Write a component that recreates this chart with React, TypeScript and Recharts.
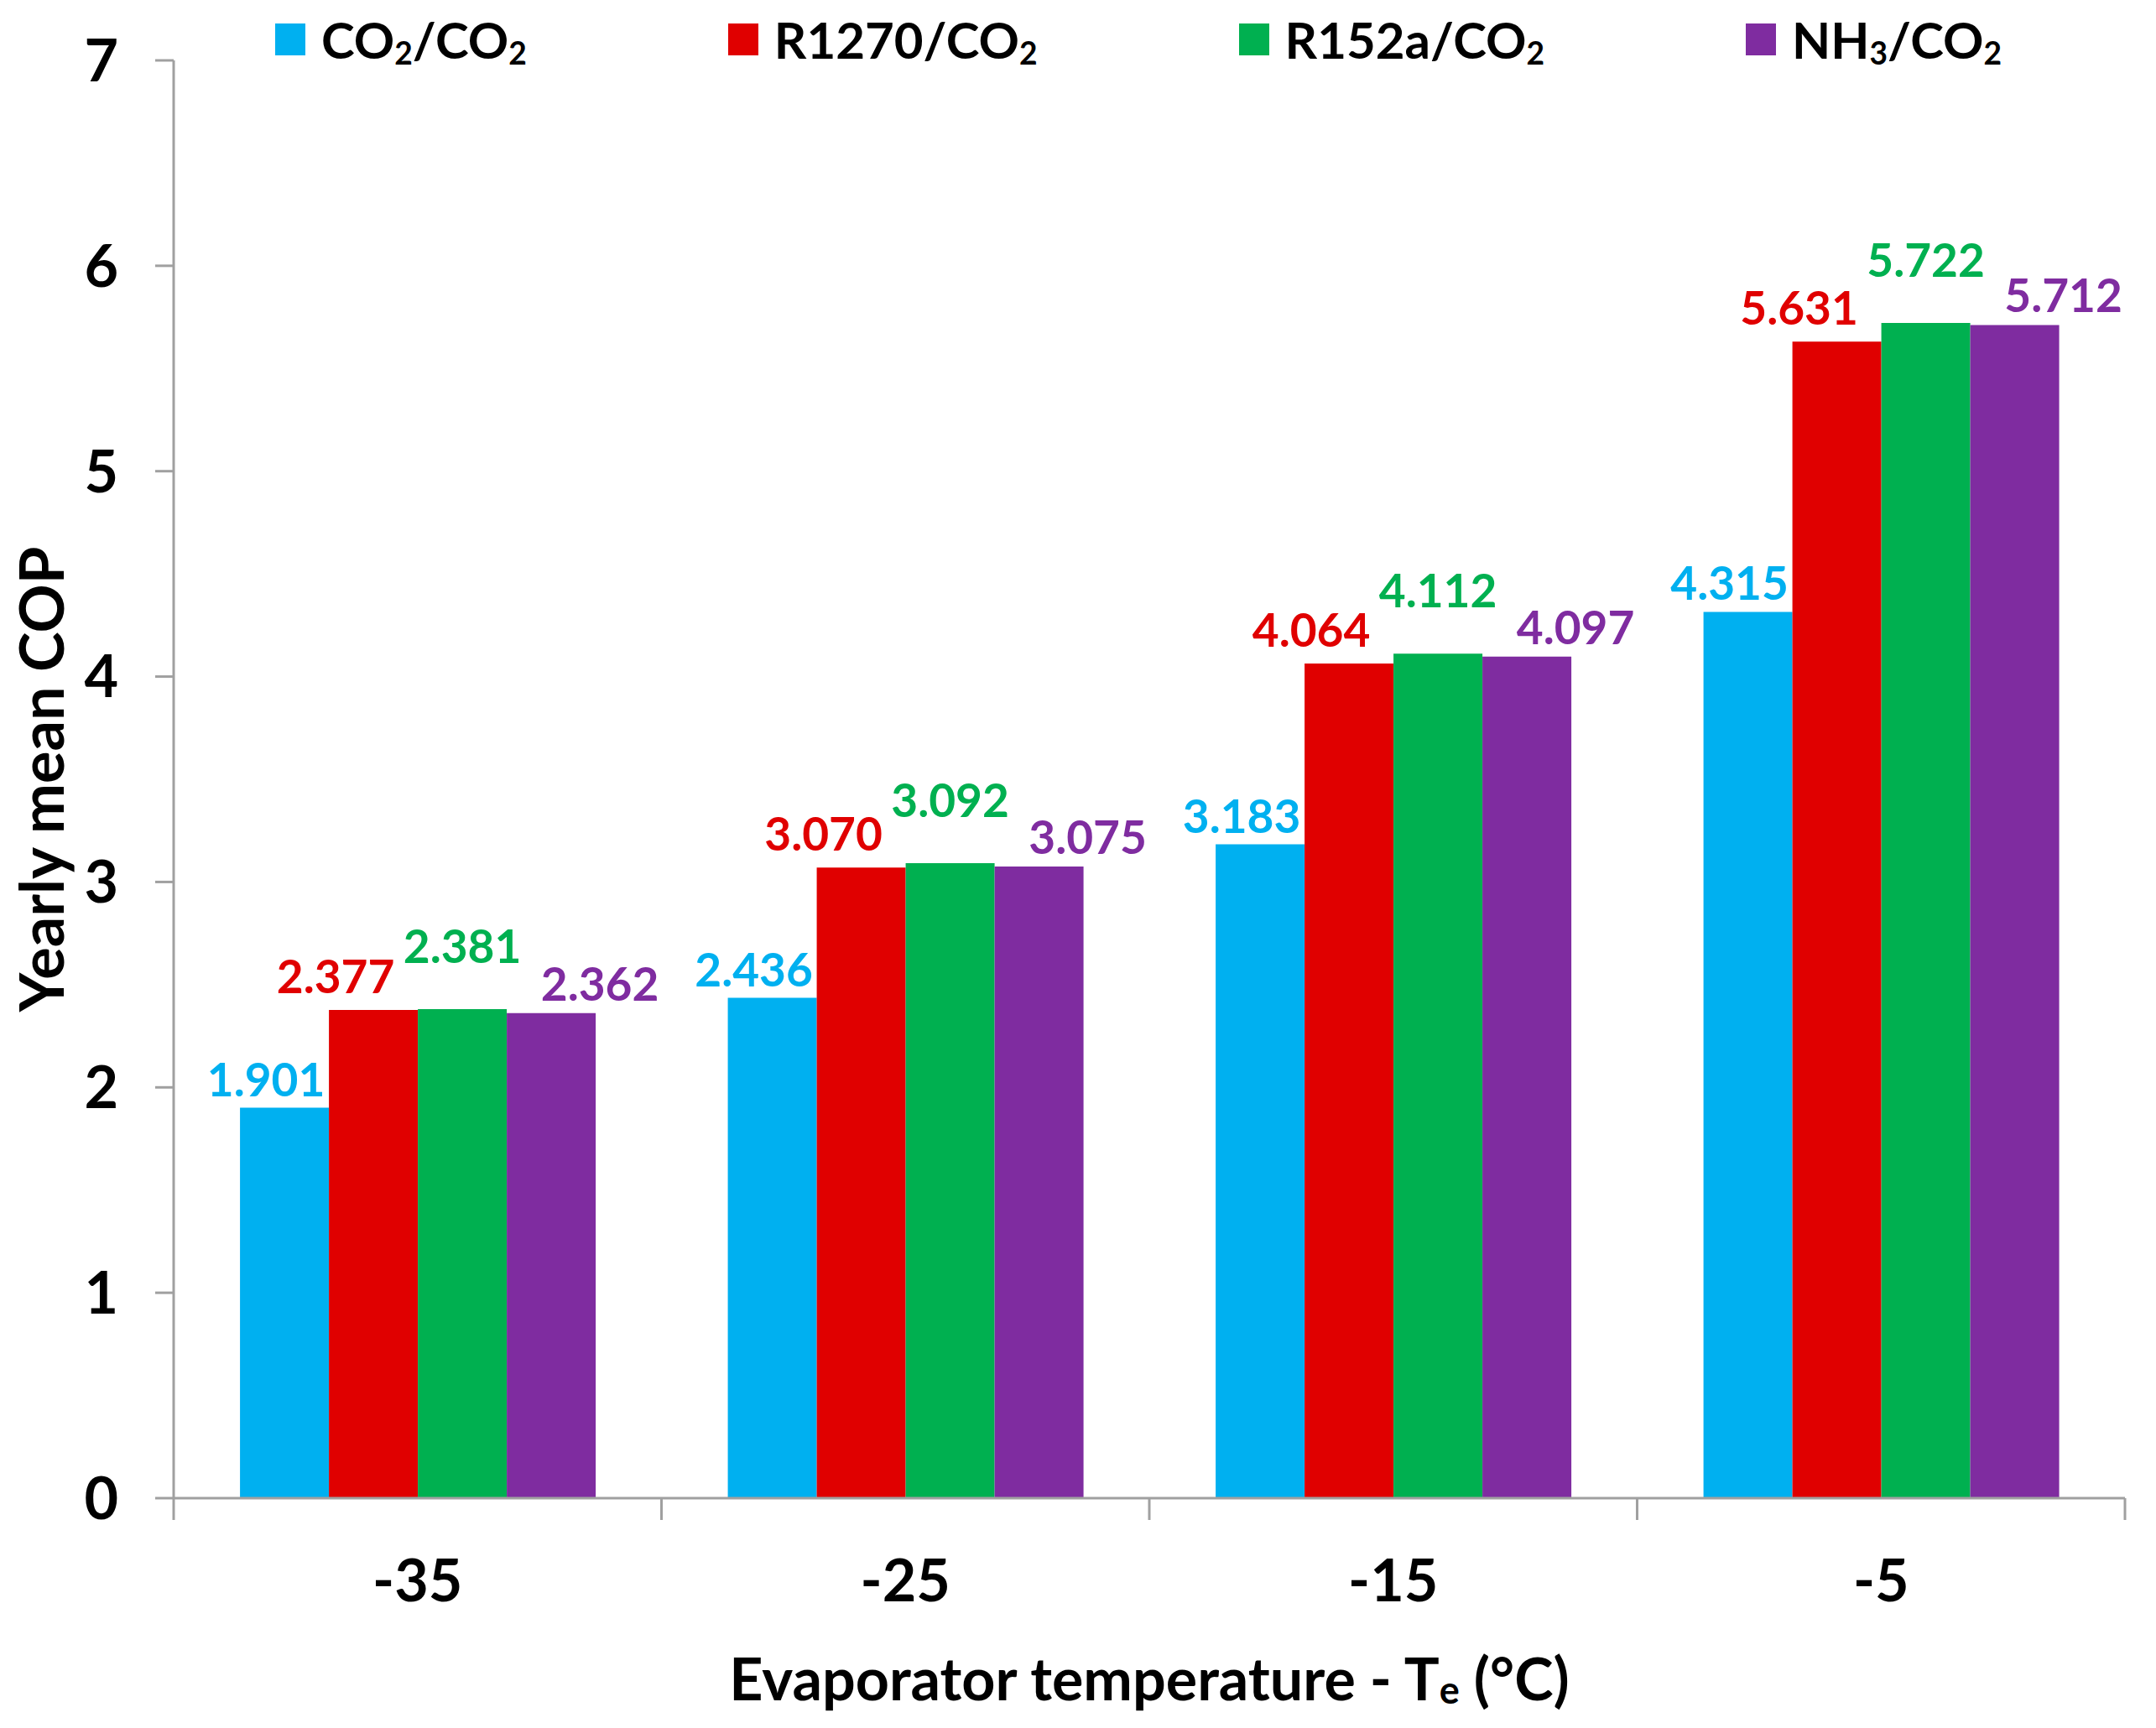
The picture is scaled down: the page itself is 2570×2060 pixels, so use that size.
import React from 'react';
import { BarChart, Bar, XAxis, YAxis, Legend, LabelList, Label } from 'recharts';

// ---------- data ----------
const CATEGORIES = ['-35', '-25', '-15', '-5'];
const SERIES_NAMES = ['CO₂/CO₂', 'R1270/CO₂', 'R152a/CO₂', 'NH₃/CO₂'];
const CO2_CO2 = [1.901, 2.436, 3.183, 4.315];
const R1270_CO2 = [2.377, 3.07, 4.064, 5.631];
const R152A_CO2 = [2.381, 3.092, 4.112, 5.722];
const NH3_CO2 = [2.362, 3.075, 4.097, 5.712];
const Y_TICKS = [0, 1, 2, 3, 4, 5, 6, 7];
const X_TITLE = 'Evaporator temperature - T';
const X_TITLE_SUB = 'e';
const X_TITLE_END = ' (°C)';
const Y_TITLE = 'Yearly mean COP';

const SERIES_KEYS = ['co2', 'r1270', 'r152a', 'nh3'];
const SERIES_VALUES = [CO2_CO2, R1270_CO2, R152A_CO2, NH3_CO2];

const rows = CATEGORIES.map((category, i) => {
  const row: Record<string, any> = { category };
  SERIES_KEYS.forEach((k, s) => {
    row[k] = SERIES_VALUES[s][i];
  });
  return row;
});

// ---------- styles ----------
const FONT = "Lato, 'Open Sans', 'Liberation Sans', sans-serif";
const AXIS = '#A0A0A0';
const COLORS = ['#00B0F0', '#E00000', '#00B050', '#7F2CA0'];
// per-series label nudges (dx, distance above bar top)
const LABEL_DX = [-22, -45, 0, 58];
const LABEL_ABOVE = [35, 41, 76, 36];

const W = 2570;
const H = 2060;
const PLOT_LEFT = 207;
const PLOT_RIGHT = 2533;
const PLOT_BOTTOM = 1786;
const BAND = (PLOT_RIGHT - PLOT_LEFT) / CATEGORIES.length;

function withSubs(text: string) {
  const parts: React.ReactNode[] = [];
  let buf = '';
  let k = 0;
  for (const ch of text) {
    if (ch === '₂' || ch === '₃') {
      if (buf) parts.push(<span key={k++}>{buf}</span>);
      buf = '';
      parts.push(
        <span key={k++} style={{ fontSize: '0.62em', position: 'relative', top: '0.18em' }}>
          {ch === '₂' ? '2' : '3'}
        </span>
      );
    } else buf += ch;
  }
  if (buf) parts.push(<span key={k++}>{buf}</span>);
  return parts;
}

const renderLegend = (props: any) => {
  const payload = [...(props.payload || [])].sort(
    (a: any, b: any) => SERIES_NAMES.indexOf(String(a.value)) - SERIES_NAMES.indexOf(String(b.value))
  );
  return (
    <div
      style={{
        height: 72,
        boxSizing: 'border-box',
        paddingTop: 22,
        paddingLeft: 328,
        display: 'flex',
        alignItems: 'center',
        gap: 240,
        fontFamily: FONT,
        fontWeight: 700,
        fontSize: 60,
        color: '#000',
        whiteSpace: 'nowrap',
      }}
    >
      {payload.map((entry: any) => (
        <div key={entry.value} style={{ display: 'flex', alignItems: 'center' }}>
          <span style={{ display: 'inline-block', width: 36, height: 38, background: entry.color, marginRight: 19 }} />
          <span style={{ lineHeight: 1 }}>{withSubs(String(entry.value))}</span>
        </div>
      ))}
    </div>
  );
};

const XTick = (props: any) => {
  const { x, y, payload } = props;
  const half = payload && typeof payload.offset === 'number' && payload.offset > 0 ? payload.offset : BAND / 2;
  const isLast = payload.value === CATEGORIES[CATEGORIES.length - 1];
  return (
    <g>
      <line x1={x - half} y1={y} x2={x - half} y2={y + 26} stroke={AXIS} strokeWidth={3} />
      {isLast && <line x1={x + half} y1={y} x2={x + half} y2={y + 26} stroke={AXIS} strokeWidth={3} />}
      <text
        x={x}
        y={y + 96}
        textAnchor="middle"
        dominantBaseline="central"
        fill="#000"
        fontSize={70}
        fontWeight={700}
        fontFamily={FONT}
      >
        {payload.value}
      </text>
    </g>
  );
};

const XTitle = (props: any) => {
  const vb = props.viewBox || {};
  const cx = vb.x + vb.width / 2;
  const cy = vb.y + 214;
  return (
    <text x={cx} y={cy} textAnchor="middle" dominantBaseline="central" fill="#000" fontSize={70} fontWeight={700} fontFamily={FONT}>
      {X_TITLE}
      <tspan fontSize={45} dy={14}>{X_TITLE_SUB}</tspan>
      <tspan dy={-14}>{X_TITLE_END}</tspan>
    </text>
  );
};

const YTitle = (props: any) => {
  const vb = props.viewBox || {};
  const cx = 48;
  const cy = vb.y + vb.height / 2;
  return (
    <text
      x={cx}
      y={cy}
      transform={`rotate(-90 ${cx} ${cy})`}
      textAnchor="middle"
      dominantBaseline="central"
      fill="#000"
      fontSize={72}
      fontWeight={700}
      fontFamily={FONT}
    >
      {Y_TITLE}
    </text>
  );
};

const makeLabel = (s: number) => (props: any) => {
  const { x, y, width, value } = props;
  if (value == null) return null;
  return (
    <text
      x={Number(x) + Number(width) / 2 + LABEL_DX[s]}
      y={Number(y) - LABEL_ABOVE[s]}
      textAnchor="middle"
      dominantBaseline="central"
      fill={COLORS[s]}
      fontSize={55}
      fontWeight={700}
      fontFamily={FONT}
    >
      {Number(value).toFixed(3)}
    </text>
  );
};

export default function App() {
  return (
    <div style={{ position: 'absolute', left: 0, top: 0, width: W, height: H, background: '#fff' }}>
      <BarChart
        width={W}
        height={H}
        data={rows}
        margin={{ top: 0, right: W - PLOT_RIGHT, bottom: 0, left: 0 }}
        barCategoryGap="13.6%"
        barGap={0}
      >
        <Legend verticalAlign="top" content={renderLegend} wrapperStyle={{ top: 0, left: 0, width: W }} />
        <XAxis
          dataKey="category"
          height={H - PLOT_BOTTOM}
          tickSize={0}
          tickMargin={0}
          tickLine={false}
          axisLine={{ stroke: AXIS, strokeWidth: 3 }}
          tick={<XTick />}
          interval={0}
        >
          <Label content={XTitle} />
        </XAxis>
        <YAxis
          type="number"
          domain={[0, 7]}
          ticks={Y_TICKS}
          interval={0}
          width={PLOT_LEFT}
          tickSize={22}
          tickMargin={44}
          axisLine={{ stroke: AXIS, strokeWidth: 3 }}
          tickLine={{ stroke: AXIS, strokeWidth: 3 }}
          tick={{ fill: '#000', fontSize: 70, fontWeight: 700, fontFamily: FONT }}
        >
          <Label content={YTitle} />
        </YAxis>
        {SERIES_KEYS.map((k, s) => (
          <Bar key={k} dataKey={k} name={SERIES_NAMES[s]} fill={COLORS[s]} isAnimationActive={false}>
            <LabelList dataKey={k} content={makeLabel(s)} />
          </Bar>
        ))}
      </BarChart>
    </div>
  );
}
